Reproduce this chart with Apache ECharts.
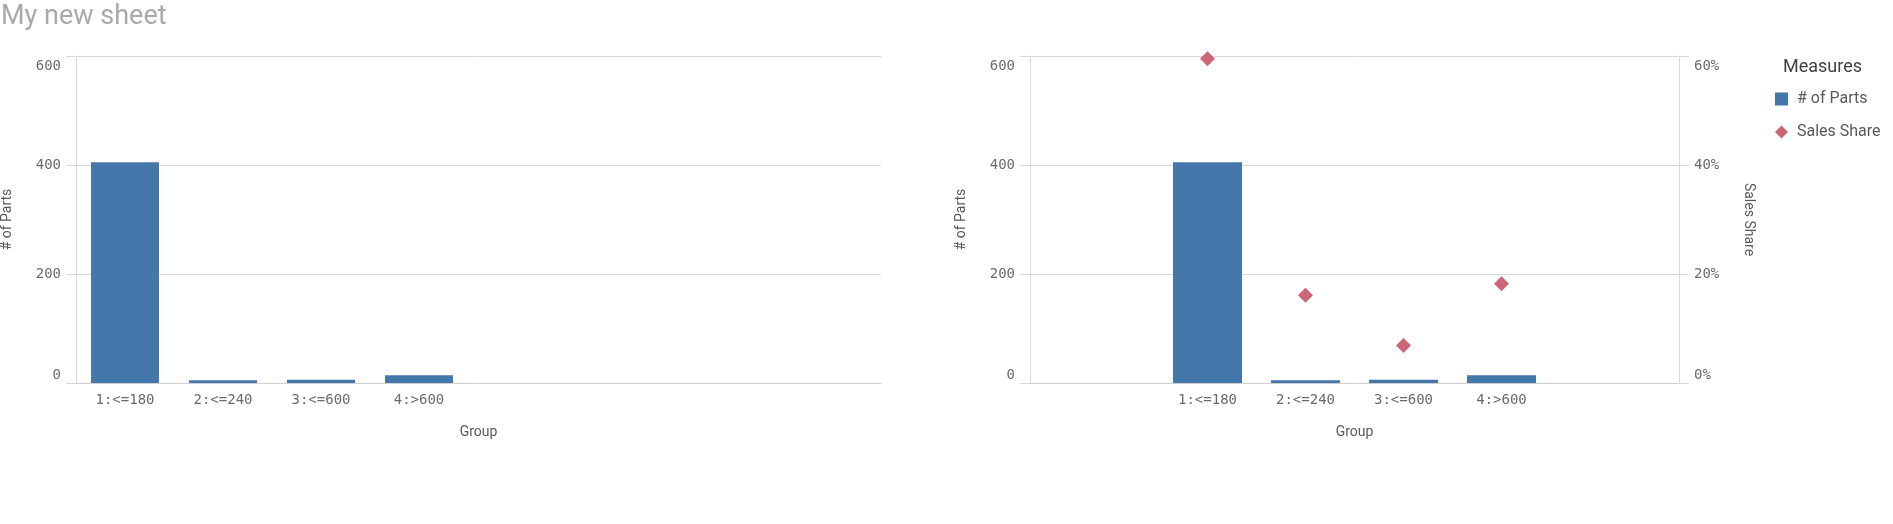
<!DOCTYPE html>
<html>
<head>
<meta charset="utf-8">
<script src="https://cdn.jsdelivr.net/npm/echarts@6/dist/echarts.min.js"></script>
<style>
html,body{margin:0;padding:0;background:#fff;}
#c{width:1893px;height:524px;}
</style>
</head>
<body>
<div id="c"></div>
<script>
// ---- data ----
const categories = ['1:<=180', '2:<=240', '3:<=600', '4:>600'];
const partsCount = [405, 5, 6, 14];
const salesShare = [0.595, 0.161, 0.069, 0.182];
const leftAxisTicks = { min: 0, max: 600, interval: 200 };
const rightAxisTicks = { min: 0, max: 0.6, interval: 0.2 };

// ---- layout ----
const BAND = 98;
const G1 = { left: 76, top: 56, width: 805, height: 327 };
const G2 = { left: 1030, top: 56, width: 649, height: 327 };
const x1min = -0.5, x1max = -0.5 + G1.width / BAND;
const mid = (categories.length - 1) / 2;
const x2min = mid - G2.width / BAND / 2, x2max = mid + G2.width / BAND / 2;

const MONO = 'DejaVu Sans Mono';
const SANS = 'Roboto';
const LABEL_COLOR = '#6b6b6b';
const GRID_COLOR = '#d9d9d9';
const BLUE = '#4477aa';
const PINK = '#cc6677';
const LFS = 14;

const rich = {
  top: { padding: [20, 0, 0, 0], fontFamily: MONO, fontSize: LFS, color: LABEL_COLOR },
  bot: { padding: [0, 0, 16, 0], fontFamily: MONO, fontSize: LFS, color: LABEL_COLOR }
};
function yFmt(max, f) {
  return function (v) {
    const s = f(v);
    if (Math.abs(v - max) < 1e-9) return '{top|' + s + '}';
    if (v === 0) return '{bot|' + s + '}';
    return s;
  };
}
const num = v => String(v);
const pct = v => Math.round(v * 100) + '%';

function yAxisBase(gridIndex, ticks, fmt, position, name, nameRotate) {
  return {
    type: 'value', gridIndex, position,
    min: ticks.min, max: ticks.max, interval: ticks.interval,
    name, nameLocation: 'middle', nameGap: 62, nameRotate,
    nameTextStyle: { fontFamily: SANS, fontSize: 14, color: '#595959' },
    axisLine: { show: true, onZero: false, lineStyle: { color: GRID_COLOR, width: 1 } },
    axisTick: { show: true, length: 10, lineStyle: { color: GRID_COLOR } },
    axisLabel: { margin: 15, fontFamily: MONO, fontSize: LFS, color: LABEL_COLOR,
                 formatter: yFmt(ticks.max, fmt), rich },
    splitLine: { show: position !== 'right', lineStyle: { color: GRID_COLOR } }
  };
}
function xAxisBase(gridIndex, min, max) {
  return {
    type: 'value', gridIndex, min, max,
    name: 'Group', nameLocation: 'middle', nameGap: 42,
    nameTextStyle: { fontFamily: SANS, fontSize: 14, color: '#595959' },
    axisLine: { show: true, onZero: false, lineStyle: { color: '#cfcfcf' } },
    axisTick: { show: false },
    splitLine: { show: false },
    axisLabel: {
      customValues: categories.map((c, i) => i),
      formatter: v => categories[Math.round(v)],
      margin: 10, fontFamily: MONO, fontSize: LFS, color: LABEL_COLOR
    }
  };
}

const barData = partsCount.map((v, i) => [i, v]);
const shareData = salesShare.map((v, i) => [i, v]);

const chart = echarts.init(document.getElementById('c'), null, { renderer: 'canvas' });
chart.setOption({
  animation: false,
  backgroundColor: '#ffffff',
  title: [
    { text: 'My new sheet', left: 1, top: 4, padding: 0,
      textStyle: { fontFamily: SANS, fontSize: 27, fontWeight: 'normal', color: '#a9a9a9' } },
    { text: 'Measures', left: 1783, top: 58, padding: 0,
      textStyle: { fontFamily: SANS, fontSize: 18, fontWeight: 'normal', color: '#404040' } }
  ],
  legend: {
    orient: 'vertical', left: 1775, top: 91, padding: 0,
    itemWidth: 13, itemHeight: 13, itemGap: 17,
    textStyle: { fontFamily: SANS, fontSize: 16, color: '#595959', padding: [0, 0, 0, 4] },
    data: [{ name: '# of Parts', icon: 'rect' }, { name: 'Sales Share', icon: 'diamond' }]
  },
  grid: [
    Object.assign({ containLabel: false, outerBoundsMode: 'none' }, G1),
    Object.assign({ containLabel: false, outerBoundsMode: 'none' }, G2)
  ],
  xAxis: [xAxisBase(0, x1min, x1max), xAxisBase(1, x2min, x2max)],
  yAxis: [
    yAxisBase(0, leftAxisTicks, num, 'left', '# of Parts', 90),
    yAxisBase(1, leftAxisTicks, num, 'left', '# of Parts', 90),
    yAxisBase(1, rightAxisTicks, pct, 'right', 'Sales Share', -90)
  ],
  series: [
    { name: '# of Parts', type: 'bar', xAxisIndex: 0, yAxisIndex: 0, data: barData,
      barWidth: 68, itemStyle: { color: BLUE } },
    { name: '# of Parts', type: 'bar', xAxisIndex: 1, yAxisIndex: 1, data: barData,
      barWidth: 69, itemStyle: { color: BLUE } },
    { name: 'Sales Share', type: 'scatter', xAxisIndex: 1, yAxisIndex: 2, data: shareData,
      symbol: 'diamond', symbolSize: 15, itemStyle: { color: PINK, opacity: 1 } }
  ]
});
</script>
</body>
</html>
